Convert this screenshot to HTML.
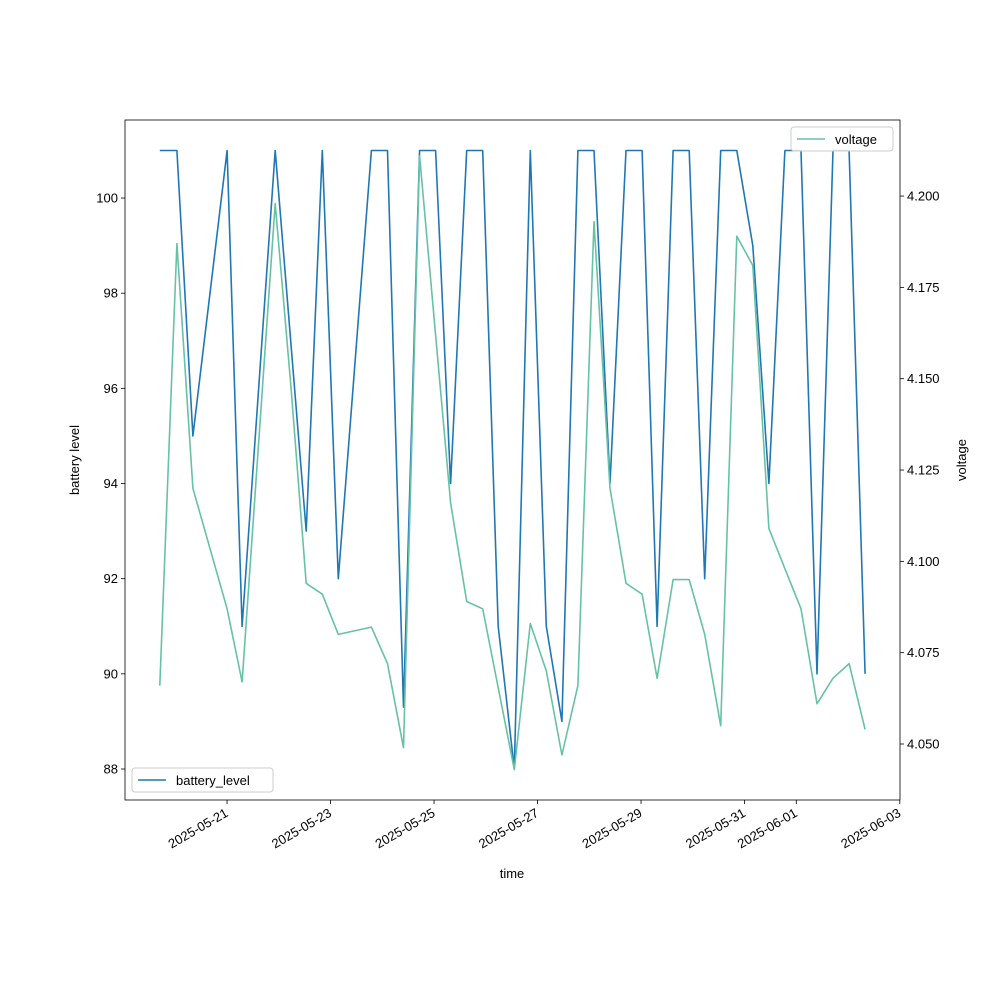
<!DOCTYPE html>
<html><head><meta charset="utf-8"><style>
body{margin:0;background:#fff}
svg text{font-family:"Liberation Sans","DejaVu Sans",sans-serif;font-size:13px;fill:#000}
</style></head><body>
<svg id="c" width="1000" height="1000"></svg>
<script>
const days = [-0.30,0.03,0.34,1.0,1.29,1.93,2.24,2.53,2.84,3.15,3.79,4.10,4.41,4.72,5.03,5.32,5.63,5.94,6.24,6.55,6.86,7.17,7.47,7.78,8.09,8.40,8.71,9.02,9.31,9.62,9.93,10.23,10.54,10.85,11.16,11.47,11.78,12.09,12.40,12.71,13.02,13.33];
const battery = [101,101,95,101,91,101,null,93,101,92,101,101,89.3,101,101,94,101,101,91,88,101,91,89,101,101,94,101,101,91,101,101,92,101,101,99,94,101,101,90,101,101,90];
const voltage = [4.066,4.187,4.120,4.087,4.067,4.198,4.147,4.094,4.091,4.080,4.082,4.072,4.049,4.211,null,4.116,4.089,4.087,null,4.043,4.083,4.070,4.047,4.066,4.193,4.120,4.094,4.091,4.068,4.095,4.095,4.080,4.055,4.189,4.181,4.109,4.098,4.087,4.061,4.068,4.072,4.054];
const xTickDays = [1,3,5,7,9,11,12,14];
const xTickLabels = ["2025-05-21","2025-05-23","2025-05-25","2025-05-27","2025-05-29","2025-05-31","2025-06-01","2025-06-03"];
const yLeftTicks = [88,90,92,94,96,98,100];
const yRightTicks = [4.050,4.075,4.100,4.125,4.150,4.175,4.200];

const NS="http://www.w3.org/2000/svg", svg=document.getElementById('c');
const L=125,R=900,T=120,B=800;
const xs=d=>175.3+d*51.75;
const yl=v=>769-(v-88)*47.58;
const yr=v=>744-(v-4.05)*3653;
function el(t,a,p){const e=document.createElementNS(NS,t);for(const k in a)e.setAttribute(k,a[k]);(p||svg).appendChild(e);return e;}

function line(vals,ys,color,name){
  let d="";let pen=false;
  vals.forEach((v,i)=>{if(v===null)return;d+=(pen?"L":"M")+xs(days[i]).toFixed(1)+","+ys(v).toFixed(1);pen=true;});
  const p=el('path',{d:d,fill:'none',stroke:color,'stroke-width':1.6,'stroke-linejoin':'round'});
  
  
}
line(battery,yl,'#1f77b4','battery-level-line');
line(voltage,yr,'#66c2a5','voltage-line');

const frame=el('rect',{x:L,y:T,width:R-L,height:B-T,fill:'none',stroke:'#000','stroke-width':0.8});



xTickDays.forEach((d,i)=>{
  const x=xs(d);
  el('line',{x1:x,x2:x,y1:B,y2:B+4,stroke:'#000','stroke-width':0.8});
  const t=el('text',{x:x,y:B+16,'text-anchor':'end',transform:`rotate(-30 ${x} ${B+12})`});
  t.textContent=xTickLabels[i];
  
  
});
yLeftTicks.forEach(v=>{
  const y=yl(v);
  el('line',{x1:L-4,x2:L,y1:y,y2:y,stroke:'#000','stroke-width':0.8});
  const t=el('text',{x:L-7,y:y+4.5,'text-anchor':'end'});t.textContent=v;
  
  
});
yRightTicks.forEach(v=>{
  const y=yr(v);
  el('line',{x1:R,x2:R+4,y1:y,y2:y,stroke:'#000','stroke-width':0.8});
  const t=el('text',{x:R+7,y:y+4.5});t.textContent=v.toFixed(3);
  
  
});
let t=el('text',{x:512,y:878,'text-anchor':'middle'});t.textContent='time';


t=el('text',{x:79,y:460,'text-anchor':'middle',transform:'rotate(-90 79 460)'});t.textContent='battery level';


t=el('text',{x:966,y:460,'text-anchor':'middle',transform:'rotate(-90 966 460)'});t.textContent='voltage';



function legend(x,y,w,color,label,name){
  const g=el('g',{});
  
  
  el('rect',{x:x,y:y,width:w,height:24,rx:3,fill:'#fff','fill-opacity':0.8,stroke:'#ccc'},g);
  el('line',{x1:x+6,x2:x+34,y1:y+12,y2:y+12,stroke:color,'stroke-width':1.6},g);
  const tt=el('text',{x:x+44,y:y+17},g);tt.textContent=label;
}
legend(132,768,141,'#1f77b4','battery_level','legend-battery-level');
legend(791,127,102,'#66c2a5','voltage','legend-voltage');
</script>
</body></html>
